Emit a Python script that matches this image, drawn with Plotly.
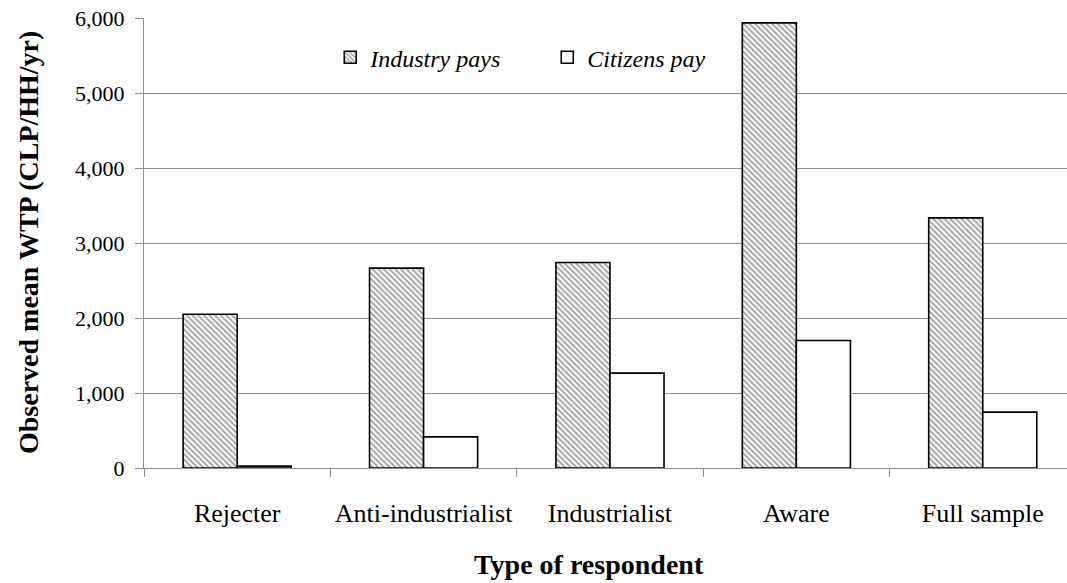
import plotly.graph_objects as go

# Observed mean willingness to pay by respondent type
categories = ["Rejecter", "Anti-industrialist", "Industrialist", "Aware", "Full sample"]
industry_pays = [2050, 2665, 2740, 5935, 3335]
citizens_pay = [25, 415, 1265, 1700, 745]
y_ticks = [0, 1000, 2000, 3000, 4000, 5000, 6000]

SERIF = "Liberation Serif, Times New Roman, serif"
GRID = "#8f8f8f"

fig = go.Figure()
fig.add_trace(go.Bar(
    x=categories, y=industry_pays, name="<i>Industry pays</i>",
    marker=dict(
        color="white",
        line=dict(color="black", width=1.6),
        pattern=dict(shape="\\", fgcolor="#4a4a4a", bgcolor="white",
                     size=4, solidity=0.48),
    ),
))
fig.add_trace(go.Bar(
    x=categories, y=citizens_pay, name="<i>Citizens pay</i>",
    marker=dict(color="white", line=dict(color="black", width=1.6)),
))

fig.update_layout(
    width=1067, height=583,
    margin=dict(l=144, r=0, t=18, b=115),
    paper_bgcolor="white", plot_bgcolor="white",
    barmode="group", bargap=0.42, bargroupgap=0,
    font=dict(family=SERIF, color="black"),
    showlegend=True,
    legend=dict(
        orientation="h", x=0.2018, y=0.912, xanchor="left", yanchor="middle",
        font=dict(family=SERIF, size=24, color="black"),
        bgcolor="rgba(0,0,0,0)", entrywidth=172, itemwidth=30,
        traceorder="normal",
    ),
    xaxis=dict(
        range=[-0.5, 4.452],
        showline=True, linecolor=GRID, linewidth=1.3,
        ticks="outside", ticklen=8, tickcolor=GRID, tickwidth=1.3,
        tickson="boundaries", tickangle=0, automargin=False,
        tickfont=dict(family=SERIF, size=26, color="black"),
        ticklabelstandoff=22,
        showgrid=False, zeroline=False,
    ),
    yaxis=dict(
        range=[0, 6000], automargin=False,
        tickvals=y_ticks, tickformat=",d",
        showline=True, linecolor=GRID, linewidth=1.3,
        ticks="outside", ticklen=8, tickcolor=GRID, tickwidth=1.3,
        tickfont=dict(family=SERIF, size=22, color="black"),
        ticklabelstandoff=6,
        showgrid=True, gridcolor=GRID, gridwidth=1.3,
        zeroline=False,
    ),
    annotations=[
        dict(
            text="<b>Type of respondent</b>", xref="paper", yref="paper",
            x=(589 - 144) / 923, y=-0.215, xanchor="center", yanchor="middle",
            showarrow=False, font=dict(family=SERIF, size=28, color="black"),
        ),
        dict(
            text="<b>Observed mean WTP (CLP/HH/yr)</b>", xref="paper", yref="paper",
            x=(28 - 144) / 923, y=0.5, xanchor="center", yanchor="middle",
            textangle=-90, showarrow=False,
            font=dict(family=SERIF, size=28, color="black"),
        ),
    ],
)

fig.write_html("out.html")
